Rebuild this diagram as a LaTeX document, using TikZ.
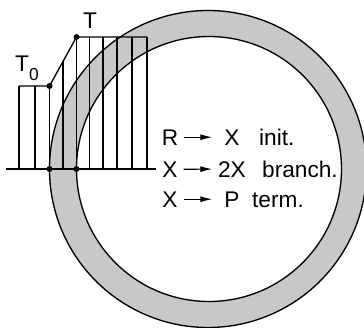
\documentclass[tikz,border=0pt]{standalone}
\usepackage{fontspec}
\setmainfont{Liberation Sans}
\usetikzlibrary{arrows.meta}
\definecolor{ringgray}{RGB}{200,200,200}
\newcommand\diagfont{\fontsize{17}{20}\selectfont}

\begin{document}
\begin{tikzpicture}[x=0.75pt,y=-0.75pt,line width=1pt,
  dot/.style={circle,fill,inner sep=0pt,minimum size=4.5pt},
  lhs/.style={inner sep=0pt,anchor=base,minimum width=19.5pt,font=\diagfont},
  rhs/.style={lhs,minimum width=28.5pt},
  rxnlabel/.style={inner sep=0pt,anchor=base west,font=\diagfont},
  rxnarrow/.style={-{Latex[length=9pt,width=4.5pt]},line width=0.9pt}]
\useasboundingbox (0,0) rectangle (364,328);
% ring
\fill[ringgray,even odd rule] (208,169) circle[radius=158.5] (209,169) circle[radius=132.5];
% temperature profile
\foreach \x/\top in {19/86,35/86,49.5/86,63/61.5,76.5/37,89.5/37,103/37,117/37,132/37,147/37}
  \draw (\x,169) -- (\x,\top);
\coordinate (p0) at (19,86);
\coordinate (p3) at (147,37);
\node[dot] (p1) at (49.5,86) {};
\node[dot] (p2) at (76.5,37) {};
\draw (p0) -- (p1.center) -- (p2.center) -- (p3);
\draw (208,169) circle[radius=158.5];
\draw (209,169) circle[radius=132.5];
\coordinate (b0) at (6,169);
\coordinate (b1) at (156,169);
\draw (b0) -- (b1);
\node[dot] (outer) at (49.5,169) {};
\node[dot] (inner) at (76.5,169) {};
\node[inner sep=0pt,anchor=base west,font=\diagfont] (tmax) at (82.5,29) {T};
\node[inner sep=0pt,anchor=base west,font=\diagfont] (tzero) at (14.5,72)
  {T\raisebox{-6pt}{\fontsize{13}{13}\selectfont 0}};
% reactions
\node[lhs] (r1) at (170,145) {R};
\node[rhs] (x1) at (232,145) {X};
\node[rxnlabel] (init) at (258.5,145) {init.};
\node[lhs] (x2) at (170,177) {X};
\node[rhs] (x3) at (232,177) {2X};
\node[rxnlabel] (branch) at (261.5,177) {branch.};
\node[lhs] (x4) at (170,207) {X};
\node[rhs] (pp) at (232,207) {P};
\node[rxnlabel] (term) at (251.5,207) {term.};
\draw[rxnarrow] (r1.east) -- (x1.west);
\draw[rxnarrow] (x2.east) -- (x3.west);
\draw[rxnarrow] (x4.east) -- (pp.west);
\end{tikzpicture}
\end{document}
